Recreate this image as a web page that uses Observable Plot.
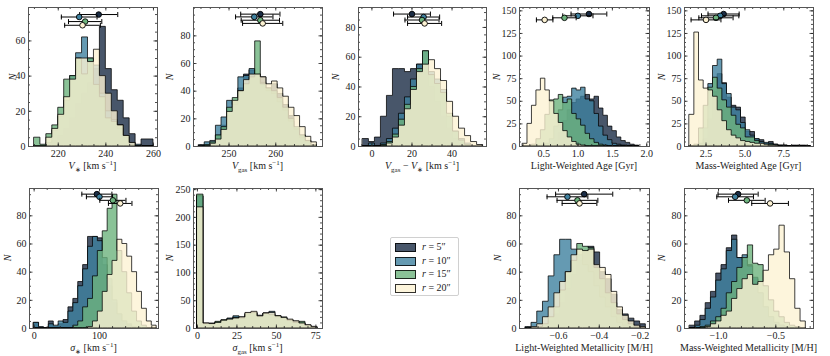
<!DOCTYPE html>
<html><head><meta charset="utf-8">
<script src="https://cdn.jsdelivr.net/npm/d3@7"></script>
<script src="https://cdn.jsdelivr.net/npm/@observablehq/plot@0.6"></script>
<style>
body{margin:0;background:#fff;}
#fig{position:relative;width:830px;height:356px;font-family:"Liberation Serif",serif;color:#222;overflow:hidden;}
.p{position:absolute;}
.xl{position:absolute;font-size:10px;white-space:nowrap;transform:translateX(-50%);line-height:10px;}
.yl{position:absolute;font-size:10px;font-style:italic;line-height:10px;transform:translate(-50%,-50%) rotate(-90deg);}
sub,sup{font-size:7px;line-height:0;}
.leg{position:absolute;left:390px;top:237px;width:67px;height:57px;border:1px solid #d0d0d0;border-radius:2px;background:#fff;}
.lr{position:absolute;left:4px;height:12px;font-size:10px;line-height:12px;white-space:nowrap;}
.sw{position:absolute;left:0;top:2px;width:19px;height:7px;border:1px solid rgba(0,0,0,0.8);}
.lt{position:absolute;left:27px;top:0;}
</style></head><body><div id="fig"></div>
<script>
// ---------- series ----------
const seriesLabels = ["5″", "10″", "15″", "20″"];
const fillColors = ["#1a2c45", "#3f819f", "#6db37d", "#fcf2d3"];

// ---------- V* ----------
const vstarStart = 210, vstarWidth = 2.5;
const vstar5  = [0,0,1,3,6,10,16,24,30,36,44,68,44,32,26,16,7,0,4,4];
const vstar10 = [0,0,2,9,17,26,40,53,62,50,46,30,20,15,10,5,2,1,0,0];
const vstar15 = [5,1,7,12,22,38,40,50,41,50,35,28,16,14,12,6,1,0,0,0];
const vstar20 = [0,0,5,10,18,28,38,50,50,48,55,40,30,20,12,6,2,0,0,0];
const vstarPtX = [237, 228.8, 231.3, 230.2];
const vstarPtErr = [8, 7.5, 7, 7.5];
const vstarPtY = [75, 73.6, 71, 68.9];

// ---------- Vgas ----------
const vgasStart = 243.6, vgasWidth = 1.2;
const vgas5  = [0,1,2,8,15,22,32,42,52,55,52,50,42,45,38,30,22,13,8,4,1];
const vgas10 = [1,3,4,15,21,33,30,50,51,56,52,46,40,38,32,26,18,12,6,3,1];
const vgas15 = [0,1,3,8,14,28,35,40,45,50,76,45,42,40,35,28,20,14,8,4,1];
const vgas20 = [0,0,2,5,12,25,33,40,48,52,52,50,45,47,42,36,28,22,14,7,3];
const vgasPtX = [256.7, 255.4, 256.7, 257.2];
const vgasPtErr = [4.2, 4, 4.1, 4.3];
const vgasPtY = [95.7, 93.7, 91.3, 89];

// ---------- Vgas - V* ----------
const dvStart = -4.5, dvWidth = 3;
const dv5  = [5,3,6,20,34,52,52,50,52,55,50,40,30,20,12,5,2,0,0,0];
const dv10 = [0,2,0,2,5,12,22,33,45,55,64,50,45,38,20,10,5,2,0,0];
const dv15 = [0,0,0,1,3,8,18,28,40,52,64,48,42,36,22,10,4,1,0,0];
const dv20 = [0,0,0,0,2,6,14,25,38,50,55,58,52,44,30,20,12,7,3,1];
const dvPtX = [20, 25.8, 25, 26.3];
const dvPtErr = [9.2, 8, 8.5, 8.5];
const dvPtY = [89, 87, 85, 82.7];

// ---------- Light-weighted age ----------
const lwaStart = 0.2, lwaWidth = 0.065;
const lwa5  = [0,0,0,0,0,0,2,6,15,28,40,48,52,55,57,52,55,42,34,22,17,10,6,4,2,1];
const lwa10 = [0,0,0,0,1,3,8,22,40,54,55,64,62,65,52,50,36,22,12,7,3,2,1,0,0,0];
const lwa15 = [0,0,2,8,18,35,51,52,57,48,52,36,30,23,14,8,4,2,1,0,0,0,0,0,0,0];
const lwa20 = [3,25,45,62,75,62,50,36,26,17,10,5,2,1,0,0,0,0,0,0,0,0,0,0,0,0];
const lwaPtX = [1.159, 0.998, 0.803, 0.515];
const lwaPtErr = [0.26, 0.22, 0.17, 0.12];
const lwaPtY = [146.5, 144.5, 142.3, 140];

// ---------- Mass-weighted age ----------
const mwaStart = 1.45, mwaWidth = 0.3;
const mwa5  = [0,0,1,8,30,60,80,70,54,45,43,32,16,16,8,7,3,5,2,1,1,0,1,1,1,0];
const mwa10 = [0,0,3,20,69,89,96,69,58,43,40,26,18,12,8,5,4,3,2,1,1,0,0,0,0,0];
const mwa15 = [0,2,20,45,65,76,64,51,43,34,24,20,10,10,6,3,2,2,1,0,0,0,0,0,0,0];
const mwa20 = [35,126,73,64,62,55,40,28,18,12,9,6,5,4,3,3,2,1,1,0,0,0,0,0,0,0];
const mwaPtX = [3.63, 3.41, 3.14, 2.5];
const mwaPtErr = [1.0, 1.2, 1.1, 0.96];
const mwaPtY = [146.5, 144.5, 142.3, 140];

// ---------- sigma* ----------
const sstarStart = 0, sstarWidth = 7.5;
const sstar5  = [4,0,0,5,1,3,6,15,21,33,45,65,65,64,45,30,18,10,5,3,1,0,0,0,0];
const sstar10 = [4,1,0,3,2,5,4,12,18,30,42,58,65,62,50,35,20,10,5,2,0,0,0,0,0];
const sstar15 = [0,0,0,0,0,0,0,0,2,5,15,21,37,55,69,85,95,55,40,25,12,5,2,0,0];
const sstar20 = [0,0,0,0,0,0,0,0,0,0,0,1,5,12,26,38,48,63,60,51,40,26,14,5,2];
const sstarPtX = [96, 100, 120.5, 131.7];
const sstarPtErr = [23, 20, 20, 18];
const sstarPtY = [95.4, 93.5, 91, 88.8];

// ---------- sigma gas ----------
const sgasStart = 0, sgasWidth = 3.8;
const sgas5  = [238,9,8,10,13,17,20,18,24,28,22,27,25,22,18,15,12,10,5,2];
const sgas10 = [238,8,9,11,14,18,22,20,25,27,23,26,30,20,17,14,12,9,4,2];
const sgas15 = [241,8,8,12,15,16,19,18,27,28,21,27,24,22,20,14,10,12,5,2];
const sgas20 = [218,9,8,10,14,16,18,20,28,30,22,27,28,22,19,16,13,9,6,3];

// ---------- Light-weighted metallicity ----------
const lwmStart = -0.76, lwmWidth = 0.028;
const lwm5  = [0,0,1,2,5,10,18,28,38,48,55,58,54,40,35,24,13,10,7,5,3];
const lwm10 = [1,4,12,19,37,52,63,63,56,52,45,40,30,22,15,8,4,2,1,0,0];
const lwm15 = [0,0,1,3,8,15,27,40,48,60,58,57,43,35,25,18,10,6,3,1,0];
const lwm20 = [0,1,3,8,15,25,33,40,52,56,55,56,45,43,38,26,15,9,5,2,1];
const lwmPtX = [-0.474, -0.556, -0.507, -0.497];
const lwmPtErr = [0.14, 0.1, 0.1, 0.085];
const lwmPtY = [95.4, 93.5, 91, 88.8];

// ---------- Mass-weighted metallicity ----------
const mwmStart = -1.25, mwmWidth = 0.046;
const mwm5  = [2,5,9,18,26,39,45,57,66,50,48,45,35,25,15,8,4,2,1,0,0,0];
const mwm10 = [0,2,6,14,22,34,42,55,63,50,52,44,36,25,15,8,4,2,1,0,0,0];
const mwm15 = [0,0,1,2,5,8,14,25,33,43,50,59,46,45,30,20,12,8,4,2,1,0];
const mwm20 = [0,0,0,1,3,5,9,12,21,28,35,38,31,33,41,52,56,73,54,35,14,5];
const mwmPtX = [-0.829, -0.855, -0.753, -0.55];
const mwmPtErr = [0.175, 0.16, 0.16, 0.16];
const mwmPtY = [95.4, 93.5, 91, 88.8];

// ---------- axis limits & tick labels ----------
const vstarXdom = [207.5, 261.7], vstarYdom = [0, 79];
const vgasXdom = [242.4, 270], vgasYdom = [0, 100.5];
const dvXdom = [-6.7, 57.2], dvYdom = [0, 93.4];
const lwaXdom = [0.149, 2.04], lwaYdom = [0, 153.7];
const mwaXdom = [1.117, 9.41], mwaYdom = [0, 153.7];
const sstarXdom = [-7.1, 190.3], sstarYdom = [0, 99.4];
const sgasXdom = [-2.5, 79.2], sgasYdom = [0, 252];
const lwmXdom = [-0.791, -0.154], lwmYdom = [0, 99.4];
const mwmXdom = [-1.297, -0.171], mwmYdom = [0, 99.4];

const vstarXt = [220, 240, 260], yt20a = [0, 20, 40, 60];
const vgasXt = [250, 260], yt20b = [0, 20, 40, 60, 80];
const dvXt = [0, 20, 40];
const lwaXt = [0.5, 1.0, 1.5, 2.0], yt25 = [0, 25, 50, 75, 100, 125, 150];
const mwaXt = [2.5, 5.0, 7.5];
const sstarXt = [0, 100];
const sgasXt = [0, 25, 50, 75], yt50 = [0, 50, 100, 150, 200, 250];
const lwmXt = [-0.6, -0.4, -0.2];
const mwmXt = [-1.0, -0.5];

const capSymbol = {draw(ctx, size) { const r = Math.sqrt(size / Math.PI); ctx.moveTo(0, -r); ctx.lineTo(0, r); }};

function minors(dom, step) {
  const out = [];
  const k0 = Math.ceil(dom[0] / step - 1e-9), k1 = Math.floor(dom[1] / step + 1e-9);
  for (let k = k0; k <= k1; k++) out.push(+(k * step).toFixed(6));
  return out;
}

const fig = document.getElementById("fig");
const mL = 32, mR = 6, mT = 6, mB = 18;

function panel(c) {
  const inDom = (d, dom) => d >= dom[0] - 1e-9 && d <= dom[1] + 1e-9;
  const xt = c.xt.filter(d => inDom(d, c.xdom));
  const xm = minors(c.xdom, c.xminor);
  const ym = minors(c.ydom, c.yminor);
  const marks = [];
  c.counts.forEach((cnt, s) => {
    const data = cnt.map((v, i) => ({x: c.start + i * c.width, y: v}));
    data.push({x: c.start + cnt.length * c.width, y: cnt[cnt.length - 1]});
    marks.push(Plot.areaY(data, {x: "x", y: "y", curve: "step-after", fill: fillColors[s], fillOpacity: 0.8,
      stroke: "#000", strokeOpacity: 0.75, strokeWidth: 1}));
  });
  if (c.ptX) {
    c.ptX.forEach((px, s) => {
      const p = [{x: px, e: c.ptErr[s], y: c.ptY[s]}];
      marks.push(Plot.ruleY(p, {y: "y", x1: d => d.x - d.e, x2: d => d.x + d.e, stroke: "#000", strokeWidth: 1}));
      marks.push(Plot.dot(p, {x: d => d.x - d.e, y: "y", symbol: capSymbol, r: 2.5, stroke: "#000", strokeWidth: 1, fill: "none"}));
      marks.push(Plot.dot(p, {x: d => d.x + d.e, y: "y", symbol: capSymbol, r: 2.5, stroke: "#000", strokeWidth: 1, fill: "none"}));
      marks.push(Plot.dot(p, {x: "x", y: "y", r: 2.8, fill: fillColors[s], stroke: "#000", strokeWidth: 0.9}));
    });
  }
  const W = c.w, H = c.h;
  // ticks: inward on all four sides
  marks.push(Plot.ruleX(xm, {x: d => d, insetTop: H - 2, stroke: "#222", strokeWidth: 0.8}));
  marks.push(Plot.ruleX(xm, {x: d => d, insetBottom: H - 2, stroke: "#222", strokeWidth: 0.8}));
  marks.push(Plot.ruleX(xt, {x: d => d, insetTop: H - 3.5, stroke: "#222", strokeWidth: 0.8}));
  marks.push(Plot.ruleX(xt, {x: d => d, insetBottom: H - 3.5, stroke: "#222", strokeWidth: 0.8}));
  marks.push(Plot.ruleY(ym, {y: d => d, insetRight: W - 2, stroke: "#222", strokeWidth: 0.8}));
  marks.push(Plot.ruleY(ym, {y: d => d, insetLeft: W - 2, stroke: "#222", strokeWidth: 0.8}));
  marks.push(Plot.ruleY(c.yt, {y: d => d, insetRight: W - 3.5, stroke: "#222", strokeWidth: 0.8}));
  marks.push(Plot.ruleY(c.yt, {y: d => d, insetLeft: W - 3.5, stroke: "#222", strokeWidth: 0.8}));
  marks.push(Plot.text(xt, {x: d => d, text: d => c.fmt(d), frameAnchor: "bottom", lineAnchor: "top", dy: 3, fontSize: 10, fill: "#222"}));
  marks.push(Plot.text(c.yt, {y: d => d, text: d => String(d), frameAnchor: "left", textAnchor: "end", dx: -3, fontSize: 10, fill: "#222"}));
  marks.push(Plot.frame({stroke: "#555", strokeWidth: 1}));

  const svg = Plot.plot({
    width: mL + W + mR, height: mT + H + mB,
    marginLeft: mL, marginRight: mR, marginTop: mT, marginBottom: mB,
    x: {domain: c.xdom, axis: null},
    y: {domain: c.ydom, axis: null},
    style: {fontFamily: "Liberation Serif, serif", fontSize: "10px", background: "transparent", overflow: "visible"},
    marks
  });
  svg.classList.add("p");
  svg.style.left = (c.left - mL) + "px";
  svg.style.top = (c.top - mT) + "px";
  fig.appendChild(svg);

  const xl = document.createElement("div");
  xl.className = "xl";
  xl.innerHTML = c.xlabel;
  xl.style.left = (c.left + W / 2) + "px";
  xl.style.top = (c.top + H + 15) + "px";
  fig.appendChild(xl);

  const yl = document.createElement("div");
  yl.className = "yl";
  yl.textContent = "N";
  yl.style.left = (c.left - c.ylOff) + "px";
  yl.style.top = (c.top + H / 2) + "px";
  fig.appendChild(yl);
}

const fInt = d3.format("d"), f1 = d3.format(".1f");
const kms = " [km s<sup>−1</sup>]";

panel({left: 28, top: 7, w: 129, h: 139, xdom: vstarXdom, ydom: vstarYdom, xt: vstarXt, xminor: 5, yt: yt20a, yminor: 5, fmt: fInt,
  start: vstarStart, width: vstarWidth, counts: [vstar5, vstar10, vstar15, vstar20], ptX: vstarPtX, ptErr: vstarPtErr, ptY: vstarPtY,
  xlabel: "<i>V</i><sub>∗</sub>" + kms, ylOff: 15});
panel({left: 193, top: 7, w: 129, h: 139, xdom: vgasXdom, ydom: vgasYdom, xt: vgasXt, xminor: 2, yt: yt20b, yminor: 5, fmt: fInt,
  start: vgasStart, width: vgasWidth, counts: [vgas5, vgas10, vgas15, vgas20], ptX: vgasPtX, ptErr: vgasPtErr, ptY: vgasPtY,
  xlabel: "<i>V</i><sub>gas</sub>" + kms, ylOff: 23});
panel({left: 358, top: 7, w: 128, h: 139, xdom: dvXdom, ydom: dvYdom, xt: dvXt, xminor: 5, yt: yt20b, yminor: 5, fmt: fInt,
  start: dvStart, width: dvWidth, counts: [dv5, dv10, dv15, dv20], ptX: dvPtX, ptErr: dvPtErr, ptY: dvPtY,
  xlabel: "<i>V</i><sub>gas</sub> − <i>V</i><sub>∗</sub>" + kms, ylOff: 22});
panel({left: 519, top: 7, w: 130, h: 139, xdom: lwaXdom, ydom: lwaYdom, xt: lwaXt, xminor: 0.1, yt: yt25, yminor: 5, fmt: f1,
  start: lwaStart, width: lwaWidth, counts: [lwa5, lwa10, lwa15, lwa20], ptX: lwaPtX, ptErr: lwaPtErr, ptY: lwaPtY,
  xlabel: "Light-Weighted Age [Gyr]", ylOff: 22});
panel({left: 684, top: 7, w: 129, h: 139, xdom: mwaXdom, ydom: mwaYdom, xt: mwaXt, xminor: 0.5, yt: yt25, yminor: 5, fmt: f1,
  start: mwaStart, width: mwaWidth, counts: [mwa5, mwa10, mwa15, mwa20], ptX: mwaPtX, ptErr: mwaPtErr, ptY: mwaPtY,
  xlabel: "Mass-Weighted Age [Gyr]", ylOff: 22});
panel({left: 29, top: 188, w: 129, h: 140, xdom: sstarXdom, ydom: sstarYdom, xt: sstarXt, xminor: 20, yt: yt20b, yminor: 5, fmt: fInt,
  start: sstarStart, width: sstarWidth, counts: [sstar5, sstar10, sstar15, sstar20], ptX: sstarPtX, ptErr: sstarPtErr, ptY: sstarPtY,
  xlabel: "<i>σ</i><sub>∗</sub>" + kms, ylOff: 21});
panel({left: 193, top: 188, w: 129, h: 140, xdom: sgasXdom, ydom: sgasYdom, xt: sgasXt, xminor: 5, yt: yt50, yminor: 10, fmt: fInt,
  start: sgasStart, width: sgasWidth, counts: [sgas5, sgas10, sgas15, sgas20], ptX: null,
  xlabel: "<i>σ</i><sub>gas</sub>" + kms, ylOff: 23});
panel({left: 519, top: 188, w: 130, h: 140, xdom: lwmXdom, ydom: lwmYdom, xt: lwmXt, xminor: 0.05, yt: yt20b, yminor: 5, fmt: f1,
  start: lwmStart, width: lwmWidth, counts: [lwm5, lwm10, lwm15, lwm20], ptX: lwmPtX, ptErr: lwmPtErr, ptY: lwmPtY,
  xlabel: "Light-Weighted Metallicity [M/H]", ylOff: 21});
panel({left: 684, top: 188, w: 129, h: 140, xdom: mwmXdom, ydom: mwmYdom, xt: mwmXt, xminor: 0.1, yt: yt20b, yminor: 5, fmt: f1,
  start: mwmStart, width: mwmWidth, counts: [mwm5, mwm10, mwm15, mwm20], ptX: mwmPtX, ptErr: mwmPtErr, ptY: mwmPtY,
  xlabel: "Mass-Weighted Metallicity [M/H]", ylOff: 22});

// ---------- legend ----------
const leg = document.createElement("div");
leg.className = "leg";
seriesLabels.forEach((lab, s) => {
  const row = document.createElement("div");
  row.className = "lr";
  row.style.top = (3 + s * 13.5) + "px";
  const sw = document.createElement("div");
  sw.className = "sw";
  sw.style.background = d3.color(fillColors[s]).copy({opacity: 0.8}).formatRgb();
  row.appendChild(sw);
  const t = document.createElement("span");
  t.className = "lt";
  t.innerHTML = "<i>r</i> = " + lab;
  row.appendChild(t);
  leg.appendChild(row);
});
fig.appendChild(leg);
</script></body></html>
